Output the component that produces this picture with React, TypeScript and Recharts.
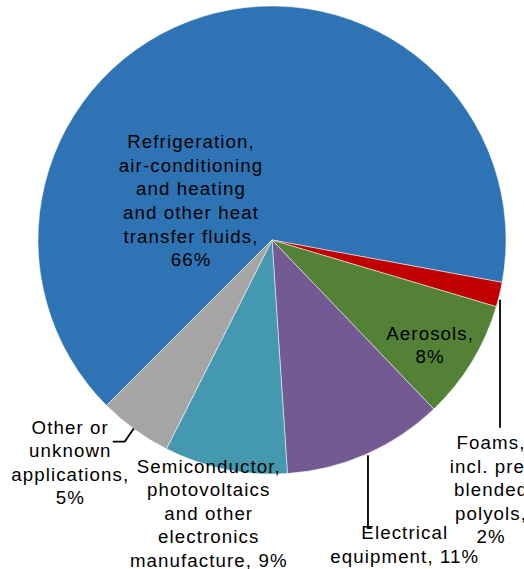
import { PieChart, Pie, Cell } from "recharts"

const categories = [
  "Refrigeration, air-conditioning and heating and other heat transfer fluids",
  "Foams, incl. pre-blended polyols",
  "Aerosols",
  "Electrical equipment",
  "Semiconductor, photovoltaics and other electronics manufacture",
  "Other or unknown applications",
]
const shares = [65.4, 1.7, 8.25, 11.1, 8.5, 5.05]
const labelLines = [
  ["Refrigeration,", "air-conditioning", "and heating", "and other heat", "transfer fluids,", "66%"],
  ["Foams,", "incl. pre-", "blended", "polyols,", "2%"],
  ["Aerosols,", "8%"],
  ["Electrical", "equipment, 11%"],
  ["Semiconductor,", "photovoltaics", "and other", "electronics", "manufacture, 9%"],
  ["Other or", "unknown", "applications,", "5%"],
]

const colors = ["#2E74B5", "#C00000", "#538135", "#735A92", "#4498B0", "#A5A5A5"]

// label block centre, offset from the slice's outer edge point
const labelPos = [
  { dx: -12, dy: 184 },
  { dx: -9, dy: 195 },
  { dx: -42, dy: -17 },
  { dx: 38, dy: 90 },
  { dx: -17, dy: 44 },
  { dx: -65, dy: 33 },
]
// leader lines, as offsets from the same edge point
const leaders: number[][][] = [
  [],
  [[0.5, 5], [0.5, 133]],
  [],
  [[1.7, 1], [1.7, 74], [5.5, 74]],
  [],
  [[-1, -1], [-10, 12], [-22, 12]],
]

const data = categories.map((name, i) => ({ name, value: shares[i] }))

const RAD = Math.PI / 180
const LH = 23.6

function renderLabel(props: any) {
  const { cx, cy, midAngle, outerRadius, index } = props
  const ex = cx + outerRadius * Math.cos(-midAngle * RAD)
  const ey = cy + outerRadius * Math.sin(-midAngle * RAD)
  const lines = labelLines[index]
  const pos = labelPos[index]
  const tx = ex + pos.dx
  const ty = ey + pos.dy - ((lines.length - 1) / 2) * LH
  const pts = leaders[index]
  return (
    <g key={`lbl-${index}`}>
      {pts.length > 0 && (
        <polyline
          points={pts.map((p) => `${ex + p[0]},${ey + p[1]}`).join(" ")}
          fill="none"
          stroke="#000"
          strokeWidth={1.8}
        />
      )}
      <text
        x={tx}
        y={ty}
        textAnchor="middle"
        fill="#000"
        fontFamily="'Liberation Sans', Arial, sans-serif"
        fontSize={18.7}
        letterSpacing={1.1}
      >
        {lines.map((ln, k) => (
          <tspan key={k} x={tx + 0.5} y={ty + k * LH} dy="0.35em">
            {ln}
          </tspan>
        ))}
      </text>
    </g>
  )
}

export default function App() {
  return (
    <div style={{ position: "absolute", left: 0, top: 0, width: 524, height: 569, background: "#fff" }}>
      <PieChart width={524} height={569} margin={{ top: 0, right: 0, bottom: 0, left: 0 }}>
        <Pie
          data={data}
          dataKey="value"
          nameKey="name"
          cx={272}
          cy={240}
          outerRadius={234}
          startAngle={225}
          endAngle={-135}
          stroke="#ffffff"
          strokeWidth={0.5}
          label={renderLabel}
          labelLine={false}
          isAnimationActive={false}
        >
          {data.map((d, i) => (
            <Cell key={d.name} fill={colors[i]} />
          ))}
        </Pie>
      </PieChart>
    </div>
  )
}
